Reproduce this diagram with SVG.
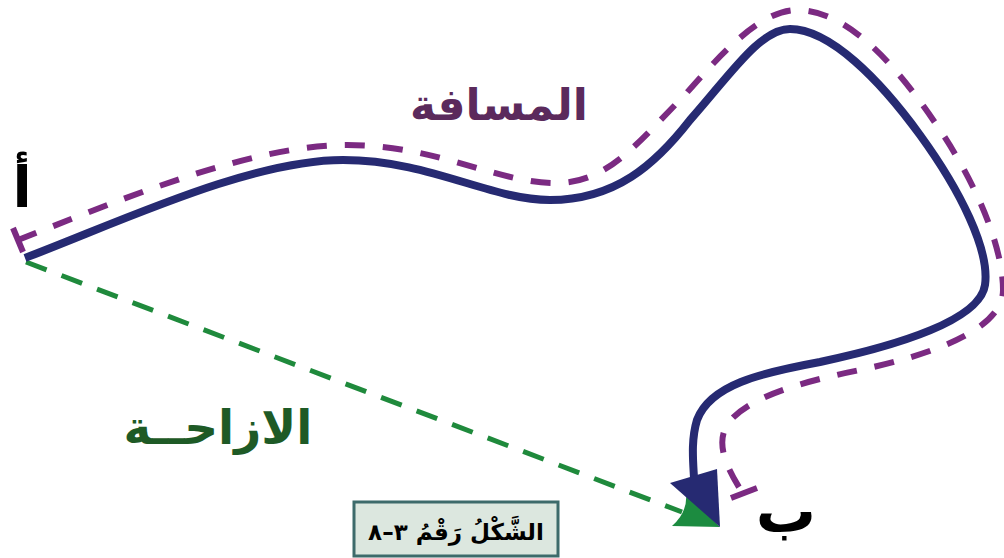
<svg xmlns="http://www.w3.org/2000/svg" width="1004" height="558" viewBox="0 0 1004 558">
<style>
.ar{font-family:"DejaVu Sans","Noto Sans",sans-serif;font-weight:bold;direction:rtl;text-anchor:middle}
.blue{fill:none;stroke:#262a72;stroke-width:8;stroke-linecap:butt}
.purple{fill:none;stroke:#7b2a82;stroke-width:6;stroke-dasharray:20 18}
.tick{fill:none;stroke:#7b2a82;stroke-width:6}
.green{fill:none;stroke:#1f8a3c;stroke-width:5;stroke-dasharray:22 16}
</style>
<rect width="1004" height="558" fill="#ffffff"/>
<g id="connectors">
  <path id="displacement" class="green" d="M26,262 L682,512"/>
  <path id="green-head" d="M720,527 L672,526 Q688,512 686,493 Z" fill="#1c8b40"/>
  <path id="distance-marker" class="purple" d="M18,240 C120,200 250,145 347,145 C440,145 500,185 560,183 C610,181 640,140 683,97 C720,55 760,10 797,10 C850,10 900,70 940,130 C980,190 1003,250 1003,290 C1003,330 930,355 860,370 C800,382 745,398 727,425 C715,445 728,470 742,492"/>
  <line class="tick" x1="13" y1="228" x2="23" y2="252"/>
  <line class="tick" x1="731" y1="498" x2="757" y2="488"/>
  <path id="path-line" class="blue" d="M25,258 C120,222 250,160 343,160 C430,160 490,200 550,200 C615,200 655,165 690,120 C730,75 760,29 790,29 C830,29 880,80 920,135 C960,190 990,250 985,285 C980,320 900,345 820,362 C760,373 710,385 697,420 C691,440 693,460 694,478"/>
  <polygon id="blue-head" points="670,483 717,469 720,527" fill="#262a72"/>
</g>
<g id="point-a">
  <text class="ar" x="22" y="207" font-size="56" fill="#000">أ</text>
</g>
<g id="point-b">
  <text class="ar" x="786" y="532" font-size="60" fill="#000">ب</text>
</g>
<g id="label-distance">
  <text class="ar" x="499" y="120" font-size="44" fill="#5b2a5c">المسافة</text>
</g>
<g id="label-displacement">
  <text class="ar" x="218" y="444" font-size="47" fill="#1e5a26">الازاحــة</text>
</g>
<g id="caption">
  <rect x="354" y="502" width="204" height="54" fill="#dce7df" stroke="#3d6b6b" stroke-width="3"/>
  <text class="ar" x="456" y="540" font-size="23" fill="#000">الشَّكْلُ رَقْمُ ٣–٨</text>
</g>
</svg>
